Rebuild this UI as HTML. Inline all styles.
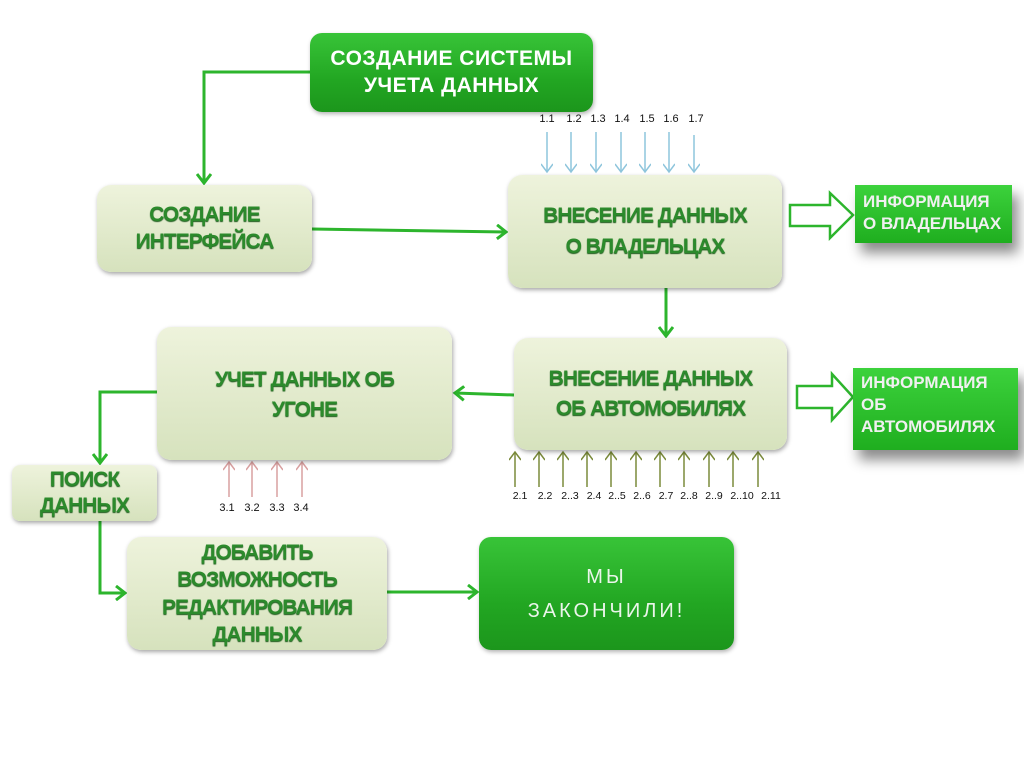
<!DOCTYPE html>
<html><head><meta charset="utf-8"><style>
body{margin:0;width:1024px;height:767px;background:#fff;position:relative;overflow:hidden;font-family:"Liberation Sans","DejaVu Sans",sans-serif}
.b{position:absolute;display:flex;align-items:center;justify-content:center;text-align:center;box-sizing:border-box;font-weight:bold;line-height:1.25}
.l{background:linear-gradient(#eef3dc,#d6e2bd);border-radius:14px;color:#2c8a2c;box-shadow:1px 2px 4px rgba(0,0,0,.35);font-size:21px;letter-spacing:-1px;text-shadow:0 1px 1px #1a5a1a}
.g{background:linear-gradient(#38c438,#22a622 60%,#1c961c);color:#fff;border-radius:12px;box-shadow:1px 2px 4px rgba(0,0,0,.3)}
.i{position:absolute;background:linear-gradient(#3cd23c,#1fae1f);color:#f0f0f0;font-weight:bold;font-size:17px;line-height:1.3;padding:4px 8px;box-sizing:border-box;box-shadow:6px 10px 12px rgba(0,0,0,.45)}
.n{position:absolute;font-size:11px;color:#111;transform:translateX(-50%)}
</style></head><body>
<svg width="1024" height="767" style="position:absolute;left:0;top:0">
<defs>
<marker id="a" markerWidth="14" markerHeight="16" refX="11" refY="8" orient="auto" markerUnits="userSpaceOnUse"><path d="M2,1 L11,8 L2,15" fill="none" stroke="#2db52d" stroke-width="3"/></marker>
<marker id="bl" markerWidth="12" markerHeight="12" refX="9" refY="6" orient="auto" markerUnits="userSpaceOnUse"><path d="M1,0 L9,6 L1,12" fill="none" stroke="#8ec5dc" stroke-width="1.5"/></marker>
<marker id="ol" markerWidth="12" markerHeight="12" refX="9" refY="6" orient="auto" markerUnits="userSpaceOnUse"><path d="M1,0 L9,6 L1,12" fill="none" stroke="#7a8a3a" stroke-width="1.5"/></marker>
<marker id="pk" markerWidth="12" markerHeight="12" refX="9" refY="6" orient="auto" markerUnits="userSpaceOnUse"><path d="M1,0 L9,6 L1,12" fill="none" stroke="#d9a0a0" stroke-width="1.5"/></marker>
</defs>
<g stroke="#2db52d" stroke-width="3" fill="none">
<polyline points="310,72 204,72 204,183" marker-end="url(#a)"/>
<line x1="312" y1="229" x2="506" y2="232" marker-end="url(#a)"/>
<line x1="666" y1="288" x2="666" y2="336" marker-end="url(#a)"/>
<line x1="514" y1="395" x2="455" y2="393" marker-end="url(#a)"/>
<polyline points="157,392 100,392 100,463" marker-end="url(#a)"/>
<polyline points="100,521 100,593 125,593" marker-end="url(#a)"/>
<line x1="387" y1="592" x2="477" y2="592" marker-end="url(#a)"/>
<path d="M790,205 L830,205 L830,193 L853,215 L830,238 L830,226 L790,226 Z" stroke-width="2.5"/>
<path d="M797,386 L832,386 L832,374 L853,397 L832,420 L832,408 L797,408 Z" stroke-width="2.5"/>
</g>
<g stroke="#8ec5dc" stroke-width="1.5">
<line x1="547" y1="132" x2="547" y2="172" marker-end="url(#bl)"/><line x1="571" y1="132" x2="571" y2="172" marker-end="url(#bl)"/><line x1="596" y1="132" x2="596" y2="172" marker-end="url(#bl)"/><line x1="621" y1="132" x2="621" y2="172" marker-end="url(#bl)"/><line x1="645" y1="132" x2="645" y2="172" marker-end="url(#bl)"/><line x1="669" y1="132" x2="669" y2="172" marker-end="url(#bl)"/><line x1="694" y1="135" x2="694" y2="172" marker-end="url(#bl)"/>
</g>
<g stroke="#7a8a3a" stroke-width="1.5">
<line x1="515" y1="487" x2="515" y2="452" marker-end="url(#ol)"/><line x1="539" y1="487" x2="539" y2="452" marker-end="url(#ol)"/><line x1="563" y1="487" x2="563" y2="452" marker-end="url(#ol)"/><line x1="587" y1="487" x2="587" y2="452" marker-end="url(#ol)"/><line x1="611" y1="487" x2="611" y2="452" marker-end="url(#ol)"/><line x1="636" y1="487" x2="636" y2="452" marker-end="url(#ol)"/><line x1="660" y1="487" x2="660" y2="452" marker-end="url(#ol)"/><line x1="684" y1="487" x2="684" y2="452" marker-end="url(#ol)"/><line x1="709" y1="487" x2="709" y2="452" marker-end="url(#ol)"/><line x1="733" y1="487" x2="733" y2="452" marker-end="url(#ol)"/><line x1="758" y1="487" x2="758" y2="452" marker-end="url(#ol)"/>
</g>
<g stroke="#d9a0a0" stroke-width="1.5">
<line x1="229" y1="497" x2="229" y2="462" marker-end="url(#pk)"/><line x1="252" y1="497" x2="252" y2="462" marker-end="url(#pk)"/><line x1="277" y1="497" x2="277" y2="462" marker-end="url(#pk)"/><line x1="302" y1="497" x2="302" y2="462" marker-end="url(#pk)"/>
</g>
</svg>

<div class="b g" style="left:310px;top:33px;width:283px;height:79px;font-size:21px;letter-spacing:.5px">СОЗДАНИЕ СИСТЕМЫ<br>УЧЕТА ДАННЫХ</div>
<div class="b l" style="left:97px;top:185px;width:215px;height:87px">СОЗДАНИЕ<br>ИНТЕРФЕЙСА</div>
<div class="b l" style="left:508px;top:175px;width:274px;height:113px;line-height:1.45">ВНЕСЕНИЕ ДАННЫХ<br>О ВЛАДЕЛЬЦАХ</div>
<div class="i" style="left:855px;top:185px;width:157px;height:58px;padding-top:6px">ИНФОРМАЦИЯ<br>О ВЛАДЕЛЬЦАХ</div>
<div class="b l" style="left:157px;top:327px;width:295px;height:133px;align-items:flex-start;padding-top:38px;line-height:1.45">УЧЕТ ДАННЫХ ОБ<br>УГОНЕ</div>
<div class="b l" style="left:514px;top:338px;width:273px;height:112px;line-height:1.45">ВНЕСЕНИЕ ДАННЫХ<br>ОБ АВТОМОБИЛЯХ</div>
<div class="i" style="left:853px;top:368px;width:165px;height:82px">ИНФОРМАЦИЯ<br>ОБ<br>АВТОМОБИЛЯХ</div>
<div class="b l" style="left:12px;top:465px;width:145px;height:56px;border-radius:8px">ПОИСК<br>ДАННЫХ</div>
<div class="b l" style="left:127px;top:537px;width:260px;height:113px;line-height:1.3">ДОБАВИТЬ<br>ВОЗМОЖНОСТЬ<br>РЕДАКТИРОВАНИЯ<br>ДАННЫХ</div>
<div class="b g" style="left:479px;top:537px;width:255px;height:113px;font-weight:normal;font-size:20px;letter-spacing:3px;line-height:1.7;color:#eaf5ea">МЫ<br>ЗАКОНЧИЛИ!</div>

<div class="n" style="left:547px;top:113px">1.1</div><div class="n" style="left:574px;top:113px">1.2</div><div class="n" style="left:598px;top:113px">1.3</div><div class="n" style="left:622px;top:113px">1.4</div><div class="n" style="left:647px;top:113px">1.5</div><div class="n" style="left:671px;top:113px">1.6</div><div class="n" style="left:696px;top:113px">1.7</div>
<div class="n" style="left:520px;top:490px;font-size:10.5px">2.1</div><div class="n" style="left:545px;top:490px;font-size:10.5px">2.2</div><div class="n" style="left:570px;top:490px;font-size:10.5px">2..3</div><div class="n" style="left:594px;top:490px;font-size:10.5px">2.4</div><div class="n" style="left:617px;top:490px;font-size:10.5px">2..5</div><div class="n" style="left:642px;top:490px;font-size:10.5px">2..6</div><div class="n" style="left:666px;top:490px;font-size:10.5px">2.7</div><div class="n" style="left:689px;top:490px;font-size:10.5px">2..8</div><div class="n" style="left:714px;top:490px;font-size:10.5px">2..9</div><div class="n" style="left:742px;top:490px;font-size:10.5px">2..10</div><div class="n" style="left:771px;top:490px;font-size:10.5px">2.11</div>
<div class="n" style="left:227px;top:502px">3.1</div><div class="n" style="left:252px;top:502px">3.2</div><div class="n" style="left:277px;top:502px">3.3</div><div class="n" style="left:301px;top:502px">3.4</div>
</body></html>
